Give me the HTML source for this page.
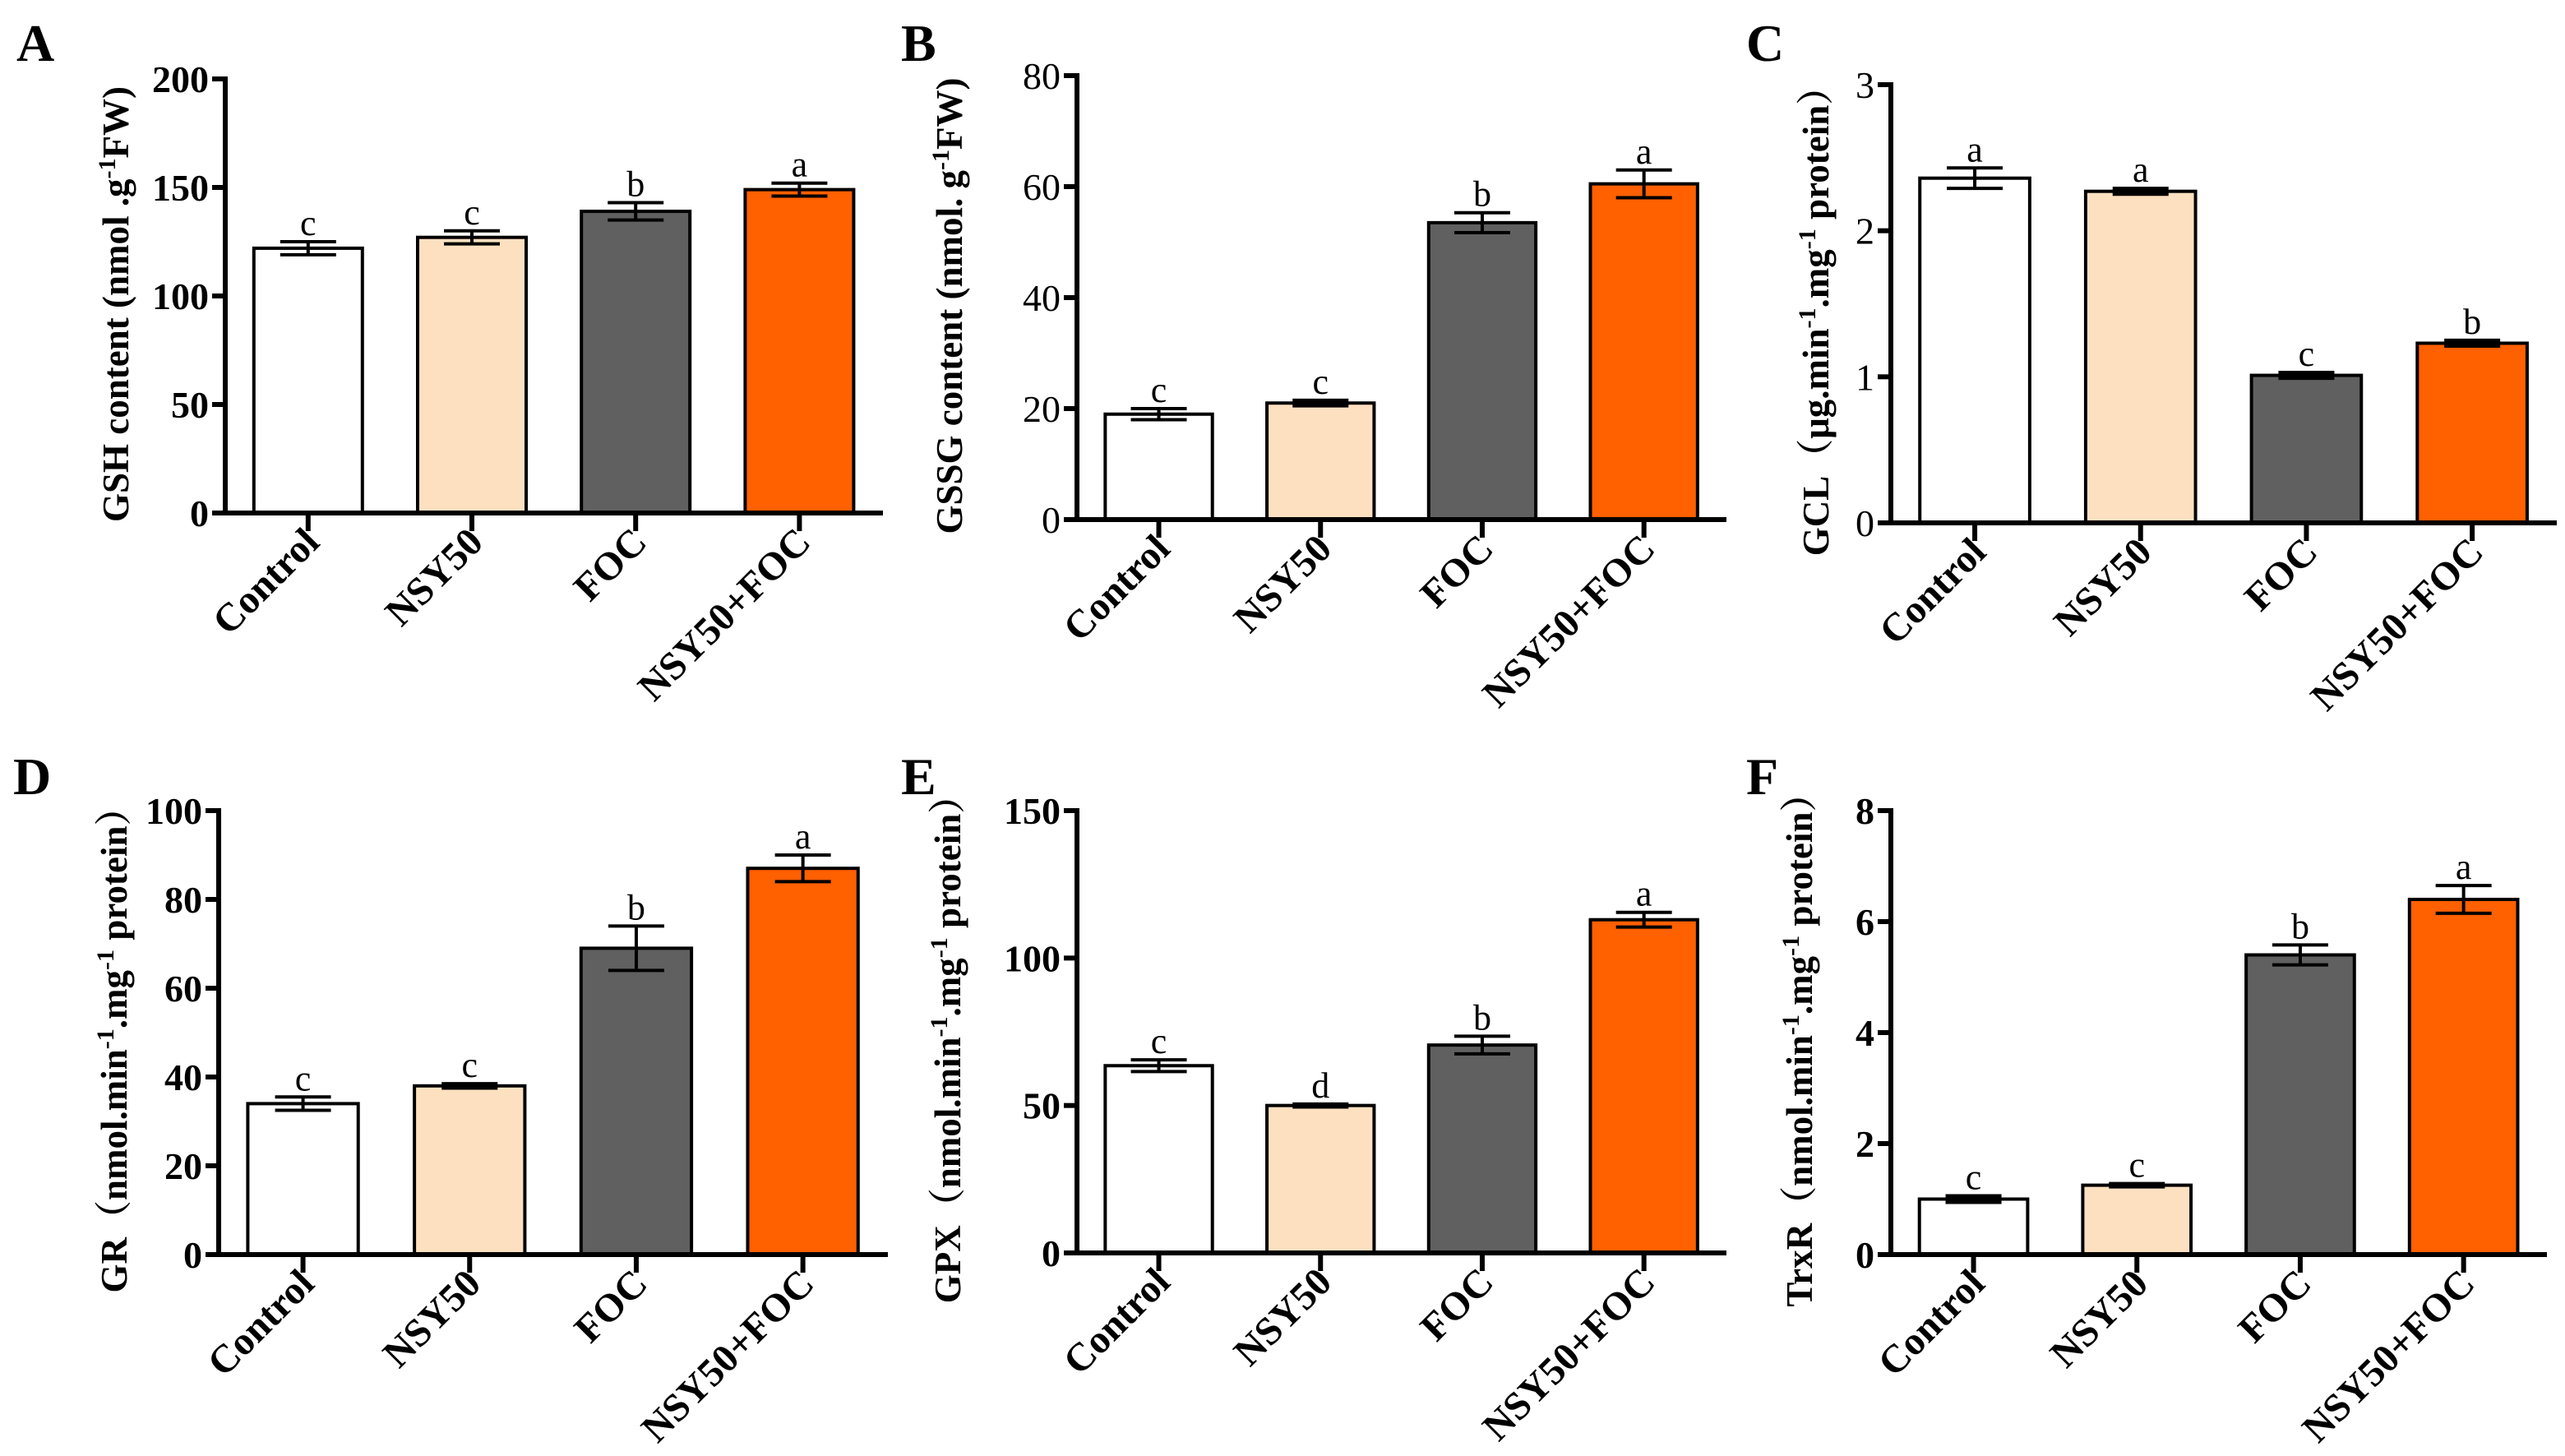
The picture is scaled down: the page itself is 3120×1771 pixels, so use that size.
<!DOCTYPE html>
<html><head><meta charset="utf-8"><style>
html,body{margin:0;padding:0;background:#fff;}
svg{display:block;}
text{font-family:"Liberation Serif","Noto Serif CJK SC",serif;fill:#000;}
</style></head><body>
<svg id="fig" width="3120" height="1771" viewBox="0 0 3120 1771" xmlns="http://www.w3.org/2000/svg"></svg>
<script>
const categories = ["Control","NSY50","FOC","NSY50+FOC"];
const gshValues = [122,127,139,149];
const gshErrors = [3,3,4,3];
const gshLetters = ["c","c","b","a"];
const gssgValues = [19,21,53.5,60.5];
const gssgErrors = [1,0.5,1.8,2.5];
const gssgLetters = ["c","c","b","a"];
const gclValues = [2.36,2.27,1.01,1.23];
const gclErrors = [0.07,0.02,0.02,0.02];
const gclLetters = ["a","a","c","b"];
const grValues = [34,38,69,87];
const grErrors = [1.5,0.5,5,3];
const grLetters = ["c","c","b","a"];
const gpxValues = [63.5,50,70.5,113];
const gpxErrors = [2,0.5,3,2.5];
const gpxLetters = ["c","d","b","a"];
const trxrValues = [1.0,1.25,5.4,6.4];
const trxrErrors = [0.06,0.03,0.18,0.25];
const trxrLetters = ["c","c","b","a"];
const ticksA = [0,50,100,150,200];
const ticksB = [0,20,40,60,80];
const ticksC = [0,1,2,3];
const ticksD = [0,20,40,60,80,100];
const ticksE = [0,50,100,150];
const ticksF = [0,2,4,6,8];

const colors = ["#ffffff","#fde0c0","#606060","#ff6000"];
const NS = "http://www.w3.org/2000/svg";
const svg = document.getElementById("fig");
function mk(tag, attrs, parent){
  const e = document.createElementNS(NS, tag);
  for (const k in attrs) e.setAttribute(k, attrs[k]);
  (parent||svg).appendChild(e);
  return e;
}

const panels = [
  {id:"a", letter:"A", lx:20, ly:74, ax:274, top:96, bot:624, end:1074, ticks:ticksA, vals:gshValues, errs:gshErrors, sig:gshLetters, tx:156, tickBold:true,
   title:[["GSH content (nmol .g",0],["-1",1],["FW)",0]]},
  {id:"b", letter:"B", lx:1096, ly:74, ax:1310, top:92, bot:632, end:2100, ticks:ticksB, vals:gssgValues, errs:gssgErrors, sig:gssgLetters, tx:1170, tickBold:false,
   title:[["GSSG content (nmol. g",0],["-1",1],["FW)",0]]},
  {id:"c", letter:"C", lx:2124, ly:74, ax:2300, top:103, bot:636, end:3110, ticks:ticksC, vals:gclValues, errs:gclErrors, sig:gclLetters, tx:2224, tickBold:false,
   title:[["GCL（μg.min",0],["-1",1],[".mg",0],["-1",1],[" protein）",0]]},
  {id:"d", letter:"D", lx:16, ly:966, ax:266, top:986, bot:1526, end:1080, ticks:ticksD, vals:grValues, errs:grErrors, sig:grLetters, tx:154, tickBold:true,
   title:[["GR（nmol.min",0],["-1",1],[".mg",0],["-1",1],[" protein）",0]]},
  {id:"e", letter:"E", lx:1096, ly:966, ax:1310, top:986, bot:1524, end:2100, ticks:ticksE, vals:gpxValues, errs:gpxErrors, sig:gpxLetters, tx:1168, tickBold:true,
   title:[["GPX（nmol.min",0],["-1",1],[".mg",0],["-1",1],[" protein）",0]]},
  {id:"f", letter:"F", lx:2124, ly:966, ax:2300, top:986, bot:1526, end:3098, ticks:ticksF, vals:trxrValues, errs:trxrErrors, sig:trxrLetters, tx:2204, tickBold:true,
   title:[["TrxR（nmol.min",0],["-1",1],[".mg",0],["-1",1],[" protein）",0]]}
];

panels.forEach(p=>{
  const g = mk("g",{});
  
  
  const maxV = p.ticks[p.ticks.length-1];
  const yS = v => p.bot - (v/maxV)*(p.bot-p.top);
  const L = p.end - p.ax;
  const xC = i => p.ax + 0.126*L + i*0.249*L;
  const bw = 0.165*L;

  const pl = mk("text",{x:p.lx,y:p.ly,"font-size":64,"font-weight":"bold"},g);
  pl.textContent = p.letter;
  
  

  p.vals.forEach((v,i)=>{
    const r = mk("rect",{x:xC(i)-bw/2,y:yS(v),width:bw,height:p.bot-yS(v),fill:colors[i],stroke:"#000","stroke-width":4},g);
    
    
    const e = p.errs[i];
    const eg = mk("g",{stroke:"#000","stroke-width":4},g);
    
    
    mk("line",{x1:xC(i),x2:xC(i),y1:yS(v+e),y2:yS(v-e)},eg);
    mk("line",{x1:xC(i)-34,x2:xC(i)+34,y1:yS(v+e),y2:yS(v+e)},eg);
    mk("line",{x1:xC(i)-34,x2:xC(i)+34,y1:yS(v-e),y2:yS(v-e)},eg);
    const s = mk("text",{x:xC(i),y:yS(v+e)-8,"font-size":44,"text-anchor":"middle"},g);
    s.textContent = p.sig[i];
    
    
    mk("line",{x1:xC(i),x2:xC(i),y1:p.bot,y2:p.bot+22,stroke:"#000","stroke-width":6},g);
    const ax = xC(i)+16, ay = p.bot+38;
    const cl = mk("text",{x:ax,y:ay,"font-size":48,"font-weight":"bold","text-anchor":"end",transform:`rotate(-45 ${ax} ${ay})`},g);
    cl.textContent = categories[i];
    
    
  });

  const ya = mk("line",{x1:p.ax,x2:p.ax,y1:p.top-3,y2:p.bot+3,stroke:"#000","stroke-width":6},g);
  
  
  const xa = mk("line",{x1:p.ax-16,x2:p.end,y1:p.bot,y2:p.bot,stroke:"#000","stroke-width":6},g);
  
  
  p.ticks.forEach(t=>{
    mk("line",{x1:p.ax-16,x2:p.ax,y1:yS(t),y2:yS(t),stroke:"#000","stroke-width":6},g);
    const tl = mk("text",{x:p.ax-20,y:yS(t)+16,"font-size":46,"font-weight":p.tickBold?"bold":"normal","text-anchor":"end"},g);
    tl.textContent = t;
    
    
  });

  const cy = (p.top+p.bot)/2 + 10;
  const tt = mk("text",{x:p.tx,y:cy,"font-size":45,"font-weight":"bold","text-anchor":"middle",transform:`rotate(-90 ${p.tx} ${cy})`},g);
  
  
  p.title.forEach(([s,sup])=>{
    const ts = mk("tspan", sup?{"font-size":30,"baseline-shift":"super"}:{}, tt);
    ts.textContent = s;
  });
});
</script>
</body></html>
